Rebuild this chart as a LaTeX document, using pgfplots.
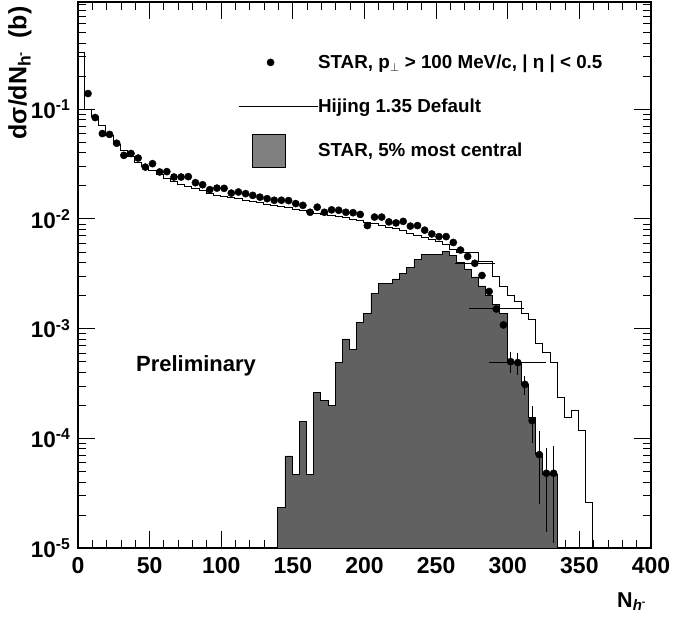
\documentclass[border=0pt]{standalone}
\usepackage{pgfplots}
\pgfplotsset{compat=1.18}
\usepackage{fontspec}
\setmainfont{Liberation Sans}
\begin{document}
\bfseries
\begin{tikzpicture}
\begin{axis}[
  name=main,
  scale only axis, width=573pt, height=546pt,
  xmin=0, xmax=400, ymode=log, ymin=1e-5, ymax=0.95,
  axis line style={line width=1.3pt},
  tick align=inside, tick style={black, line width=0.9pt},
  major tick length=17pt, minor tick length=8pt,
  xtick={0,50,...,400}, minor x tick num=4,
  ytick={1e-5,1e-4,1e-3,1e-2,1e-1},
  minor ytick={2e-5,3e-5,4e-5,5e-5,6e-5,7e-5,8e-5,9e-5,2e-4,3e-4,4e-4,5e-4,6e-4,7e-4,8e-4,9e-4,2e-3,3e-3,4e-3,5e-3,6e-3,7e-3,8e-3,9e-3,2e-2,3e-2,4e-2,5e-2,6e-2,7e-2,8e-2,9e-2,0.2,0.3,0.4,0.5,0.6,0.7,0.8,0.9},
  yticklabels={10\textsuperscript{-5},10\textsuperscript{-4},10\textsuperscript{-3},10\textsuperscript{-2},10\textsuperscript{-1}},
  /pgf/number format/assume math mode=true,
  xticklabel style={font=\bfseries\fontsize{23}{23}\selectfont, yshift=-6pt},
  yticklabel style={font=\bfseries\fontsize{22.5}{22.5}\selectfont, xshift=-4pt},
  xlabel={N\textsubscript{\textit{h}\textsuperscript{-}}},
  ylabel={dσ/dN\textsubscript{h\textsuperscript{-}}\hspace{0.5em}(b)},
  every axis x label/.style={at={(rel axis cs:1,0)}, xshift=-1pt, yshift=-59pt, anchor=base east, font=\bfseries\fontsize{21.5}{21.5}\selectfont},
  every axis y label/.style={at={(rel axis cs:0,1)}, xshift=-51.5pt, yshift=-1pt, rotate=90, anchor=base east, font=\bfseries\fontsize{25}{25}\selectfont},
  legend style={at={(rel axis cs:0.279,0.930)}, anchor=north west, draw=none, fill=none, font=\bfseries\fontsize{18.8}{21}\selectfont, row sep=0pt, inner sep=0pt, nodes={inner sep=0pt}},
  legend cell align=left,
  error bars/error bar style={line width=1pt, black},
]
% STAR 5% most central
\addplot[const plot, fill=black!62, draw=black, line width=0.8pt, forget plot] coordinates {
(139.5,1e-5) (139.5,2.33e-5) (144.5,6.9e-5) (149.5,4.7e-5) (154.5,1.43e-4) (159.5,4.7e-5) (164.5,2.62e-4) (169.5,2.2e-4) (174.5,1.98e-4) (179.5,4.9e-4) (184.5,8.05e-4) (189.5,6.5e-4) (194.5,1.14e-3) (199.5,1.38e-3) (204.5,2.1e-3) (209.5,2.56e-3) (214.5,2.56e-3) (219.5,2.84e-3) (224.5,3.2e-3) (229.5,3.58e-3) (234.5,4.24e-3) (239.5,4.74e-3) (244.5,4.74e-3) (249.5,4.74e-3) (254.5,5.08e-3) (259.5,4.64e-3) (264.5,4.0e-3) (269.5,3.5e-3) (274.5,2.96e-3) (279.5,2.45e-3) (284.5,2.0e-3) (289.5,1.66e-3) (294.5,1.37e-3) (299.5,4.9e-4) (304.5,4.9e-4) (309.5,3.1e-4) (314.5,1.55e-4) (319.5,7.2e-5) (324.5,4.7e-5) (329.5,4.7e-5) (334.5,4.7e-5) (334.5,1e-5)
} -- cycle;
% Hijing 1.35 Default
\addplot[const plot, draw=black, line width=1pt, forget plot] coordinates {
(0,0.33) (4.5,0.10) (9.5,0.085) (14.5,0.0714) (19.5,0.058) (24.5,0.048) (29.5,0.042) (34.5,0.037) (39.5,0.033) (44.5,0.030) (49.5,0.0275) (54.5,0.0255) (59.5,0.0235) (64.5,0.022) (69.5,0.0208) (74.5,0.0198) (79.5,0.0188) (84.5,0.018) (89.5,0.0172) (94.5,0.0165) (99.5,0.016) (104.5,0.0156) (109.5,0.0152) (114.5,0.0148) (119.5,0.0144) (124.5,0.014) (129.5,0.0136) (134.5,0.0132) (139.5,0.013) (144.5,0.0126) (149.5,0.0123) (154.5,0.012) (159.5,0.0116) (164.5,0.0113) (169.5,0.011) (174.5,0.0107) (179.5,0.0105) (184.5,0.0102) (189.5,0.0099) (194.5,0.0096) (199.5,0.0093) (204.5,0.009) (209.5,0.0087) (214.5,0.0084) (219.5,0.0081) (224.5,0.0078) (229.5,0.0074) (234.5,0.0071) (239.5,0.0068) (244.5,0.0065) (249.5,0.0062) (254.5,0.0058) (259.5,0.0053) (264.5,0.0049) (269.5,0.0049) (274.5,0.0049) (279.5,0.0041) (284.5,0.0041) (289.5,0.0030) (294.5,0.0024) (299.5,0.0020) (304.5,0.00175) (309.5,0.00136) (314.5,0.0012) (319.5,7.3e-4) (324.5,6.1e-4) (329.5,4.9e-4) (334.5,2.36e-4) (339.5,1.55e-4) (344.5,1.81e-4) (349.5,1.17e-4) (354.5,2.6e-5) (359.5,1e-5)
};
% STAR data points
\addplot[only marks, mark=*, mark size=3.6pt, black, forget plot,
  error bars/.cd, x dir=both, x explicit, y dir=both, y explicit, error mark=none] coordinates {
(7,0.139) (12,0.084) (17,0.060) (22,0.059) (27,0.049) (32,0.038) (37,0.0395) (42,0.0359) (47,0.0297) (52,0.0319)
(57,0.0268) (62,0.0270) (67,0.0241) (72,0.0241) (77,0.0243) (82,0.0214) (87,0.0205) (92,0.0185) (97,0.0191) (102,0.0190)
(107,0.0172) (112,0.0176) (117,0.0170) (122,0.0164) (127,0.0158) (132,0.0153) (137,0.0148) (142,0.0148) (147,0.0147) (152,0.0138)
(157,0.0133) (162,0.0115) (167,0.0128) (172,0.0115) (177,0.0121) (182,0.0120) (187,0.0115) (192,0.0114) (197,0.0110) (202,0.0087)
(207,0.0104) (212,0.0104) (217,0.0094) (222,0.0092) (227,0.0095) (232,0.0086) (237,0.0087) (242,0.0079) (247,0.0073) (252,0.0069)
(257,0.0069) (262,0.0061) (267,0.0052) (272,0.00455) (277,0.00394) +- (14,0) (282,0.00305) (287,0.00218) (292,0.00151) +- (19,0) (297,0.00108)
(302,5.0e-4) +- (0,1.1e-4) (307,4.9e-4) +- (20,1.1e-4) (312,3.1e-4) +- (0,6e-5) (317,1.45e-4) +- (0,5.4e-5) (322,7.1e-5) +- (0,4.6e-5)
(327,4.8e-5) +- (0,3.4e-5) (332,4.8e-5) +- (0,3.7e-5)
};
\addlegendimage{legend image code/.code={\path[draw=none,fill=none] (0pt,-22pt) rectangle (79pt,22pt); \fill[black] (32pt,0pt) circle (3.6pt);}}
\addlegendentry{STAR, p\textsubscript{$\perp$} > 100 MeV/c, | η | < 0.5}
\addlegendimage{legend image code/.code={\path[draw=none,fill=none] (0pt,-22pt) rectangle (79pt,22pt); \draw[black, line width=1pt] (0pt,0pt) -- (79pt,0pt);}}
\addlegendentry{Hijing 1.35 Default}
\addlegendimage{legend image code/.code={\path[draw=none,fill=none] (0pt,-22pt) rectangle (79pt,22pt); \filldraw[fill=black!50, draw=black, line width=0.8pt] (14pt,-16.5pt) rectangle (47pt,16.5pt);}}
\addlegendentry{STAR, 5\% most central}
\node[font=\bfseries\fontsize{22}{22}\selectfont] at (rel axis cs:0.206,0.333) {Preliminary};
\end{axis}
\path[draw=none] (main.south west) ++(-78pt,-70pt) rectangle ++(674pt,618pt);
\end{tikzpicture}
\end{document}
